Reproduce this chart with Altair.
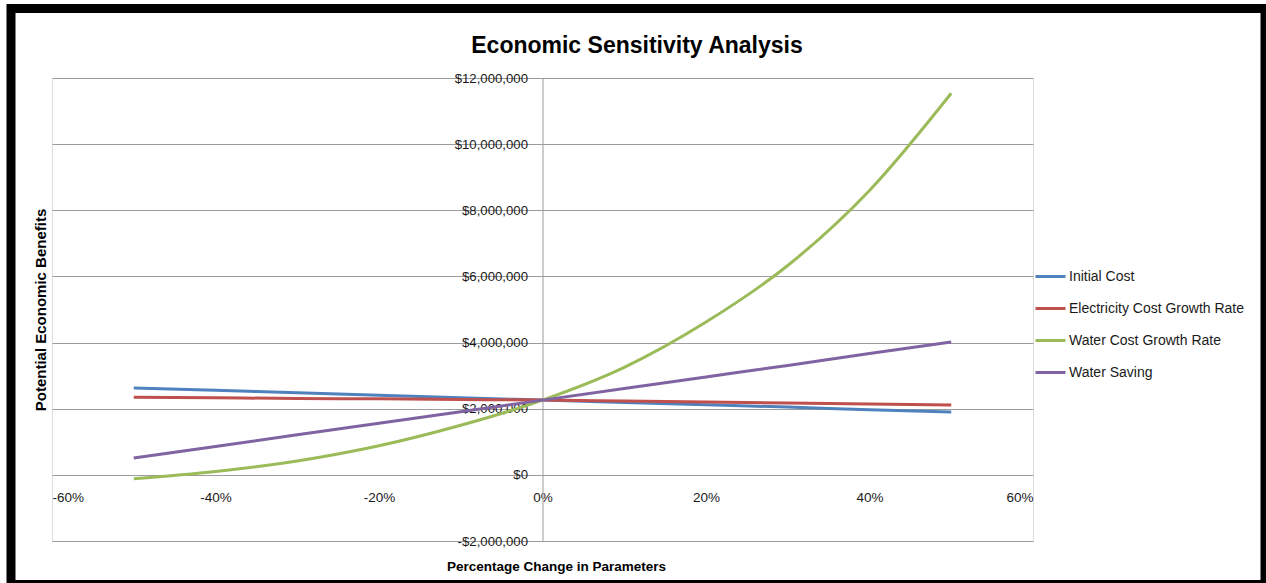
import altair as alt
import pandas as pd

# ---- data ----
pct = [-0.5, -0.4, -0.3, -0.2, -0.1, 0.0, 0.1, 0.2, 0.3, 0.4, 0.5]
initial_cost = [2.63, 2.56, 2.48, 2.41, 2.33, 2.26, 2.19, 2.12, 2.05, 1.97, 1.90]
electricity_growth = [2.35, 2.33, 2.31, 2.30, 2.28, 2.26, 2.23, 2.20, 2.17, 2.14, 2.11]
water_cost_growth = [-0.12, 0.10, 0.42, 0.88, 1.50, 2.26, 3.25, 4.62, 6.33, 8.60, 11.54]
water_saving = [0.51, 0.86, 1.21, 1.56, 1.91, 2.26, 2.61, 2.96, 3.31, 3.67, 4.02]

series_names = ["Initial Cost", "Electricity Cost Growth Rate",
                "Water Cost Growth Rate", "Water Saving"]
series_colors = ["#4F81BD", "#C0504D", "#9BBB59", "#8064A2"]
x_ticks = [-0.6, -0.4, -0.2, 0.0, 0.2, 0.4, 0.6]
y_ticks = [-2e6, 0, 2e6, 4e6, 6e6, 8e6, 10e6, 12e6]

rows = []
for name, vals in zip(series_names,
                      [initial_cost, electricity_growth, water_cost_growth, water_saving]):
    for p, v in zip(pct, vals):
        rows.append({"pct": p, "value": v * 1e6, "series": name})
df = pd.DataFrame(rows)

W, H = 981, 463
FONT = "Liberation Sans"
TXT = "#1a1a1a"
GRID = "#9c9c9c"

x_min, x_max = -0.6, 0.6
y_min, y_max = -2e6, 12e6
zero_from_bottom = H * (0 - y_min) / (y_max - y_min)
zero_from_left = W * (0 - x_min) / (x_max - x_min)

lines = alt.Chart(df).mark_line(strokeWidth=3, interpolate="monotone").encode(
    x=alt.X("pct:Q",
            scale=alt.Scale(domain=[x_min, x_max], nice=False, zero=False),
            axis=alt.Axis(values=x_ticks, grid=False, domain=False, ticks=False,
                          offset=-zero_from_bottom, labelPadding=16,
                          labelExpr="(datum.value < 0 ? '-' : '') + format(abs(datum.value), '.0%')",
                          labelFont=FONT, labelFontSize=13.5, labelColor=TXT,
                          title="Percentage Change in Parameters",
                          titleFont=FONT, titleFontSize=13.5, titleFontWeight="bold",
                          titleColor="black", titleX=504, titleY=91.5,
                          titleBaseline="middle", titleAlign="center")),
    y=alt.Y("value:Q",
            scale=alt.Scale(domain=[y_min, y_max], nice=False, zero=False),
            axis=alt.Axis(values=y_ticks, grid=True, gridColor=GRID, gridWidth=1,
                          domain=True, domainColor=GRID, domainWidth=1, ticks=False,
                          offset=-zero_from_left, labelPadding=15,
                          labelExpr="(datum.value < 0 ? '-' : '') + format(abs(datum.value), '$,.0f')",
                          labelFont=FONT, labelFontSize=13.2, labelColor=TXT,
                          labelBaseline="middle",
                          title="Potential Economic Benefits",
                          titleFont=FONT, titleFontSize=15, titleFontWeight="bold",
                          titleColor="black", titleAngle=270,
                          titleX=40 - 52 - zero_from_left, titleY=H / 2,
                          titleBaseline="middle", titleAlign="center")),
    color=alt.Color("series:N",
                    scale=alt.Scale(domain=series_names, range=series_colors),
                    legend=alt.Legend(title=None, orient="none", legendX=982, legendY=182,
                                      symbolType="stroke", symbolSize=900,
                                      symbolStrokeWidth=3, labelOffset=2, rowPadding=8,
                                      padding=0, labelFont=FONT, labelFontSize=14,
                                      labelLimit=400,
                                      labelColor=TXT, labelBaseline="middle")),
)

frame_df = pd.DataFrame({"k": [0]})
frame = alt.Chart(frame_df).mark_rect(filled=False, stroke="black", strokeWidth=9).encode(
    x=alt.value(-41), x2=alt.value(1213), y=alt.value(-69.5), y2=alt.value(506.5)
)

chart = alt.layer(lines, frame).properties(
    width=W, height=H,
    padding={"left": 52, "top": 78, "right": 233, "bottom": 42},
    autosize=alt.AutoSizeParams(type="none"),
    title=alt.Title("Economic Sensitivity Analysis", font=FONT, fontSize=23,
                    fontWeight="bold", color="black", anchor="middle", frame="group",
                    dx=94.5, dy=95, baseline="alphabetic", offset=23),
).configure_view(strokeWidth=0).configure(background="white")

chart.save("out.html", embed_options={"renderer": "svg", "actions": False})
